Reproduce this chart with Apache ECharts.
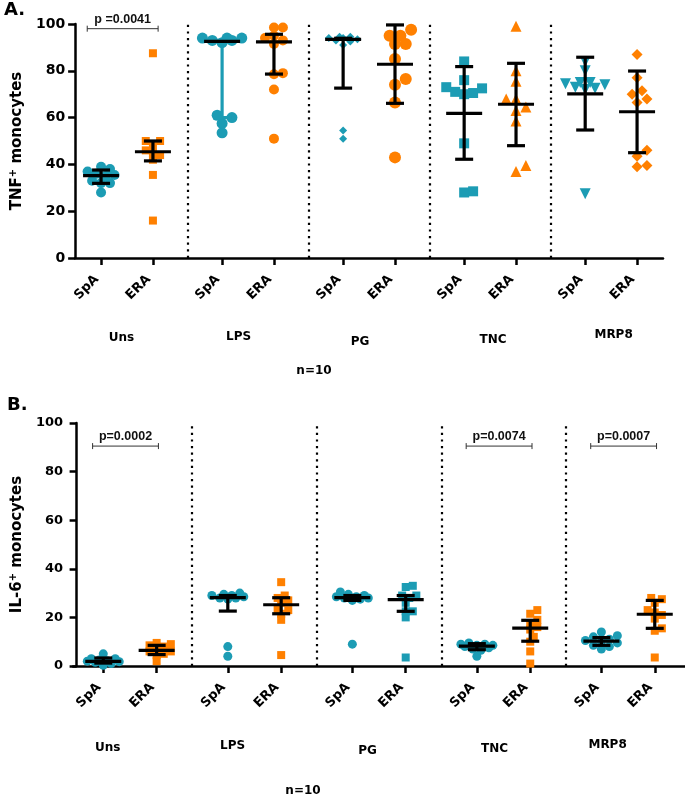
<!DOCTYPE html>
<html><head><meta charset="utf-8">
<script src="https://cdn.jsdelivr.net/npm/echarts@6/dist/echarts.min.js"></script>
<style>html,body{margin:0;padding:0;background:#fff}#c{width:685px;height:797px}</style>
</head><body><div id="c"></div>
<script>
// ---------- data ----------
const groups = ['Uns', 'LPS', 'PG', 'TNC', 'MRP8'];
const cohorts = ['SpA', 'ERA'];
const yTicks = [0, 20, 40, 60, 80, 100];

// A. TNF+ monocytes (%), n=10 per group
const tnfSpA = [
  [28, 32, 32, 33, 35, 35.5, 36, 37, 38, 39],
  [53.5, 57.5, 60, 61, 92, 93, 93, 94, 94, 94],
  [51, 54.5, 91, 92.5, 93, 93.5, 94, 94, 94.5, 94.5],
  [28, 28.5, 49, 70, 70.5, 71, 72.5, 73, 76, 84],
  [27.5, 72, 72.5, 73, 74, 74.5, 75, 75, 80, 84]
];
const tnfERA = [
  [16, 35.5, 42, 44, 45, 46, 48, 50, 50, 87.5],
  [51, 72, 78.5, 79, 91.5, 93, 94, 95, 98.5, 98.5],
  [43, 66.5, 74, 76.5, 85, 91.5, 91.5, 95, 95, 97.5],
  [37, 39.5, 58.5, 63, 64.5, 68, 68, 75.5, 80, 99],
  [39, 39.5, 43.5, 46, 66.5, 68, 70, 71.5, 77, 87]
];
// [centre line, lower bar, upper bar]
const tnfSpAStats = [[35.2, 31.9, 37.6], [92.6, 60, 93], [93.4, 72.6, 93.9], [61.8, 42.2, 81.8], [70.1, 54.7, 85.8]];
const tnfERAStats = [[45.4, 41.5, 50], [92.4, 78.6, 95.6], [82.8, 66.1, 99.6], [65.7, 48, 83.2], [62.5, 45, 79.9]];
const tnfPValues = [['Uns', 'p =0.0041']];

// B. IL-6+ monocytes (%), n=10 per group
const il6SpA = [
  [0.3, 1, 1.5, 1.8, 2, 2.2, 2.5, 3, 3, 5],
  [4, 8, 27.5, 28, 28, 28.5, 29, 29, 29.5, 30],
  [9, 27, 27.5, 28, 28, 28.5, 28.5, 29, 29.5, 30.5],
  [4, 6.5, 7, 7.5, 8, 8.5, 8.5, 9, 9, 9.5],
  [7, 8, 8.5, 9.5, 10, 10.5, 11, 12, 12.5, 14]
];
const il6ERA = [
  [2, 4.5, 5, 6, 6, 7, 8, 8.5, 9, 9.5],
  [4.5, 19, 21.5, 23, 23.5, 26, 27, 28, 29, 34.5],
  [3.5, 20, 22.5, 22.5, 26, 28, 29, 29, 32.5, 33],
  [1, 6, 10, 12, 15, 16, 17.5, 19, 21.5, 23],
  [3.5, 14.5, 15.5, 19.5, 21, 22, 23, 26, 27.5, 28]
];
const il6SpAStats = [[1.9, 1.2, 3.3], [28.1, 22.6, 29], [28.1, 27, 29], [8.2, 6.7, 9.2], [10.2, 8.5, 11.7]];
const il6ERAStats = [[6.4, 4.7, 8.5], [25.2, 21.5, 28.1], [27.3, 22.5, 29], [15.6, 10.2, 18.8], [21.3, 15.5, 27]];
const il6PValues = [['Uns', 'p=0.0002'], ['TNC', 'p=0.0074'], ['MRP8', 'p=0.0007']];

// ---------- layout / style ----------
const TEAL = '#1c9cb4', ORANGE = '#ff8000', BLACK = '#000';
const FONT = 'DejaVu Sans';
const xPos = (g, c) => 1.5 + 7 * g + 3 * c;
const tickPos = [];
groups.forEach((g, gi) => cohorts.forEach((c, ci) => tickPos.push(xPos(gi, ci))));
const sepPos = [1, 2, 3, 4].map(g => xPos(g, 0) - 2);

const panels = [
  {
    spa: tnfSpA, era: tnfERA, spaStats: tnfSpAStats, eraStats: tnfERAStats, pv: tnfPValues,
    grid: { left: 72, top: 24, width: 591, height: 234 }, xMin: 0, xMax: 34,
    name: 'TNF{s|+} monocytes', nameGap: 46, labelSize: 14, pY: 98,
    spaSym: [['circle', 10], ['circle', 11], ['diamond', 8], ['rect', 10], ['triangle', 11, 180]],
    eraSym: [['rect', 8], ['circle', 10], ['circle', 12], ['triangle', 11], ['diamond', 11]],
    spaCol: [TEAL, TEAL, TEAL, TEAL, TEAL], eraCol: [ORANGE, ORANGE, ORANGE, ORANGE, ORANGE],
    spaBarCol: [BLACK, TEAL, BLACK, BLACK, BLACK],
    bracket: [-0.8, 0.3]
  },
  {
    spa: il6SpA, era: il6ERA, spaStats: il6SpAStats, eraStats: il6ERAStats, pv: il6PValues,
    grid: { left: 64, top: 423, width: 621, height: 243 }, xMin: -0.2, xMax: 34.2,
    name: 'IL-6{s|+} monocytes', nameGap: 42, labelSize: 13, pY: 90.5,
    spaSym: [['circle', 9], ['circle', 9], ['circle', 9], ['circle', 9], ['circle', 9]],
    eraSym: [['rect', 8], ['rect', 8], ['rect', 8], ['rect', 8], ['rect', 8]],
    spaCol: [TEAL, TEAL, TEAL, TEAL, TEAL], eraCol: [ORANGE, ORANGE, TEAL, ORANGE, ORANGE],
    spaBarCol: [BLACK, BLACK, BLACK, BLACK, BLACK],
    bracket: [-0.6, 0.1]
  }
];

// deterministic horizontal spreading of overlapping points (limited width, overlap allowed)
function swarm(vals, size, pxY, pxX) {
  const idx = vals.map((_, i) => i).sort((a, b) => vals[a] - vals[b]);
  const placed = [], off = [];
  const step = size * 0.45, maxK = 4;
  idx.forEach(i => {
    const y = vals[i] * pxY;
    let chosen = 0, bestD = -1;
    for (let s = 0; s <= maxK * 2; s++) {
      const cand = s === 0 ? 0 : (s % 2 ? 1 : -1) * Math.ceil(s / 2) * step;
      const d = placed.length ? Math.min(...placed.map(p => Math.hypot(p[0] - cand, p[1] - y))) : Infinity;
      if (d >= size * 0.75) { chosen = cand; bestD = d; break; }
      if (d > bestD) { bestD = d; chosen = cand; }
    }
    placed.push([chosen, y]);
    off[i] = chosen / pxX;
  });
  return off;
}

const option = { animation: false, backgroundColor: '#fff', grid: [], xAxis: [], yAxis: [], series: [], graphic: [] };

panels.forEach((P, pi) => {
  option.grid.push(Object.assign({ containLabel: false }, P.grid));
  const pxX = P.grid.width / (P.xMax - P.xMin), pxY = P.grid.height / 100;
  option.xAxis.push({
    type: 'value', gridIndex: pi, min: P.xMin, max: P.xMax,
    splitLine: { show: false },
    axisLine: { show: true, lineStyle: { color: BLACK, width: 2.5 } },
    axisTick: { show: true, customValues: tickPos, length: 7, lineStyle: { color: BLACK, width: 2.5 } },
    axisLabel: {
      customValues: tickPos, rotate: 45, margin: 15, padding: [0, 6, 0, 0],
      formatter: v => cohorts[Math.round((v - 1.5) % 7) === 0 ? 0 : 1],
      fontFamily: FONT, fontWeight: 'bold', fontSize: 13, color: BLACK
    }
  });
  option.yAxis.push({
    type: 'value', gridIndex: pi, min: 0, max: 100, interval: 20,
    splitLine: { show: false },
    axisLine: { show: true, lineStyle: { color: BLACK, width: 2.5 } },
    axisTick: { show: true, length: 7, lineStyle: { color: BLACK, width: 2.5 } },
    axisLabel: { fontFamily: FONT, fontWeight: 'bold', fontSize: P.labelSize, color: BLACK, margin: 10,
      customValues: yTicks },
    name: P.name, nameLocation: 'middle', nameGap: P.nameGap, nameRotate: 90,
    nameTextStyle: {
      fontFamily: FONT, fontWeight: 'bold', fontSize: 15, color: BLACK,
      rich: { s: { fontFamily: FONT, fontWeight: 'bold', fontSize: 10, color: BLACK, verticalAlign: 'bottom', padding: [0, 0, 9, 0] } }
    }
  });

  // scatter points
  [['spa', 0], ['era', 1]].forEach(([key, ci]) => {
    P[key].forEach((vals, gi) => {
      const sym = (ci === 0 ? P.spaSym : P.eraSym)[gi];
      const col = (ci === 0 ? P.spaCol : P.eraCol)[gi];
      const off = swarm(vals, sym[1], pxY, pxX);
      option.series.push({
        type: 'scatter', xAxisIndex: pi, yAxisIndex: pi, z: 2,
        name: cohorts[ci] + ' ' + groups[gi],
        symbol: sym[0], symbolSize: sym[1], symbolRotate: sym[2] || 0,
        itemStyle: { color: col, opacity: 1 },
        data: vals.map((v, i) => [xPos(gi, ci) + off[i], v])
      });
    });
  });

  // error bars
  const barData = [];
  groups.forEach((g, gi) => {
    const s1 = P.spaStats[gi], s2 = P.eraStats[gi];
    barData.push({ value: [xPos(gi, 0), s1[0], s1[1], s1[2]], itemStyle: { color: P.spaBarCol[gi] } });
    barData.push({ value: [xPos(gi, 1), s2[0], s2[1], s2[2]], itemStyle: { color: BLACK } });
  });
  option.series.push({
    type: 'custom', xAxisIndex: pi, yAxisIndex: pi, z: 5, silent: true,
    data: barData,
    renderItem: (params, api) => {
      const x = api.value(0);
      const pm = api.coord([x, api.value(1)]), pl = api.coord([x, api.value(2)]), ph = api.coord([x, api.value(3)]);
      const c = api.visual('color');
      const st = { stroke: c, lineWidth: 3.2 };
      return {
        type: 'group', children: [
          { type: 'line', shape: { x1: pm[0], y1: pl[1], x2: pm[0], y2: ph[1] }, style: st },
          { type: 'line', shape: { x1: pm[0] - 9, y1: pl[1], x2: pm[0] + 9, y2: pl[1] }, style: st },
          { type: 'line', shape: { x1: pm[0] - 9, y1: ph[1], x2: pm[0] + 9, y2: ph[1] }, style: st },
          { type: 'line', shape: { x1: pm[0] - 18, y1: pm[1], x2: pm[0] + 18, y2: pm[1] }, style: { stroke: BLACK, lineWidth: 3.2 } }
        ]
      };
    },
    markLine: {
      silent: true, symbol: 'none', label: { show: false },
      lineStyle: { color: BLACK, width: 2.2, type: [2.2, 4.4] },
      data: sepPos.map(x => ({ xAxis: x }))
    }
  });

  // significance brackets
  option.series.push({
    type: 'custom', xAxisIndex: pi, yAxisIndex: pi, z: 6, silent: true,
    data: P.pv.map(([g, t]) => {
      const gi = groups.indexOf(g);
      return { value: [xPos(gi, 0) + P.bracket[0], xPos(gi, 1) + P.bracket[1], P.pY], t };
    }),
    renderItem: (params, api) => {
      const a = api.coord([api.value(0), api.value(2)]), b = api.coord([api.value(1), api.value(2)]);
      const t = P.pv[params.dataIndex][1];
      const st = { stroke: '#333', lineWidth: 1 };
      return {
        type: 'group', children: [
          { type: 'line', shape: { x1: a[0], y1: a[1], x2: b[0], y2: b[1] }, style: st },
          { type: 'line', shape: { x1: a[0], y1: a[1] - 3, x2: a[0], y2: a[1] + 3 }, style: st },
          { type: 'line', shape: { x1: b[0], y1: b[1] - 3, x2: b[0], y2: b[1] + 3 }, style: st },
          { type: 'text', style: { text: t, x: (a[0] + b[0]) / 2, y: a[1] - 3, textAlign: 'center', textVerticalAlign: 'bottom',
            font: 'bold 12.5px "Liberation Sans", Arial, sans-serif', fill: '#111' } }
        ]
      };
    }
  });
});

// panel letters, group labels, n
const txt = (text, x, y, size, align) => ({
  type: 'text', x, y, silent: true,
  style: { text, fill: BLACK, font: 'bold ' + size + 'px "' + FONT + '"', textAlign: align || 'center', textVerticalAlign: 'middle' }
});
option.graphic.push(txt('A.', 4, 10, 18, 'left'));
option.graphic.push(txt('B.', 7, 405, 18, 'left'));
const topLab = [[121.5, 338], [238.6, 337], [360, 342], [493, 340], [613.6, 335]];
const botLab = [[107.6, 748], [232.6, 746], [367.5, 751], [494.5, 749], [607.6, 745]];
groups.forEach((g, i) => {
  option.graphic.push(txt(g, topLab[i][0], topLab[i][1], 12));
  option.graphic.push(txt(g, botLab[i][0], botLab[i][1], 12));
});
option.graphic.push(txt('n=10', 314, 371, 12));
option.graphic.push(txt('n=10', 303, 791, 12));

const chart = echarts.init(document.getElementById('c'));
chart.setOption(option);
</script>
</body></html>
